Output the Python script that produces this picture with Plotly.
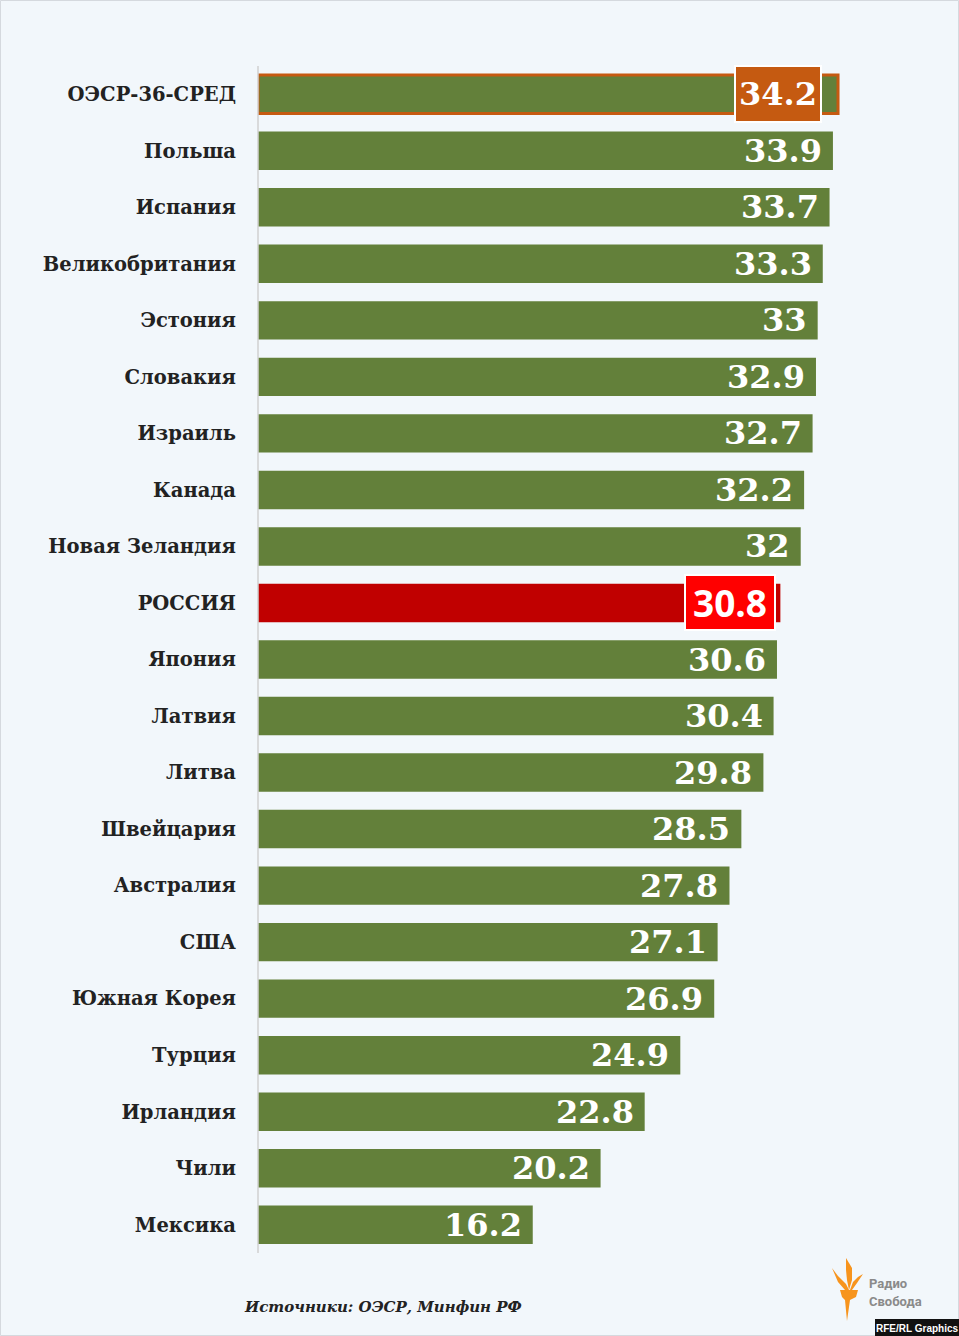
import plotly.graph_objects as go

countries = ["ОЭСР-36-СРЕД", "Польша", "Испания", "Великобритания", "Эстония", "Словакия",
             "Израиль", "Канада", "Новая Зеландия", "РОССИЯ", "Япония", "Латвия", "Литва",
             "Швейцария", "Австралия", "США", "Южная Корея", "Турция", "Ирландия", "Чили", "Мексика"]
values = [34.2, 33.9, 33.7, 33.3, 33, 32.9, 32.7, 32.2, 32, 30.8, 30.6, 30.4, 29.8,
          28.5, 27.8, 27.1, 26.9, 24.9, 22.8, 20.2, 16.2]
labels = [f"{v:g}" for v in values]
source_text = "Источники: ОЭСР, Минфин РФ"

W_FIG, H_FIG = 959, 1336
ML, MR, MT, MB = 258, 22, 66, 83
PW = W_FIG - ML - MR
PH = H_FIG - MT - MB

GREEN = "#63803a"
ORANGE = "#c55a11"
DARKRED = "#c00000"
RED = "#ff0000"
BG = "#f2f7fb"

bar_colors = []
line_w = []
for c in countries:
    if c == "РОССИЯ":
        bar_colors.append(DARKRED)
    else:
        bar_colors.append(GREEN)
    line_w.append(3 if c.startswith("ОЭСР") else 0)

fig = go.Figure()
fig.add_trace(go.Bar(
    x=values, y=countries, orientation="h",
    marker=dict(color=bar_colors, line=dict(color=ORANGE, width=line_w)),
    hoverinfo="skip",
))

annotations = []
for c, v, t in zip(countries, values, labels):
    a = dict(x=v, y=c, xref="x", yref="y", text=t, showarrow=False,
             xanchor="right", yanchor="middle",
             font=dict(family="DejaVu Serif", size=32, color="white", weight="bold"))
    if c.startswith("ОЭСР"):
        a.update(xshift=-16, bgcolor=ORANGE, bordercolor="white", borderwidth=2, borderpad=2,
                 width=80, height=50)
    elif c == "РОССИЯ":
        a.update(xshift=-4, bgcolor=RED, bordercolor="white", borderwidth=2, borderpad=2,
                 width=84, height=49,
                 font=dict(family="Open Sans", size=37, color="white", weight="bold"))
    else:
        a.update(xshift=-9)
    annotations.append(a)


def px(x):
    return (x - ML) / PW


def py(y):
    return (MT + PH - y) / PH


# source
annotations.append(dict(x=px(383), y=py(1307), xref="paper", yref="paper", text=f"<i>{source_text}</i>",
                        showarrow=False, xanchor="center", yanchor="middle",
                        font=dict(family="DejaVu Serif", size=15, color="#222222", weight="bold")))
# logo text
annotations.append(dict(x=px(867), y=py(1283), xref="paper", yref="paper", text="Радио",
                        showarrow=False, xanchor="left", yanchor="middle",
                        font=dict(family="Roboto", size=13, color="#8a8a8a", weight="bold")))
annotations.append(dict(x=px(867), y=py(1302), xref="paper", yref="paper", text="Свобода",
                        showarrow=False, xanchor="left", yanchor="middle",
                        font=dict(family="Roboto", size=13, color="#8a8a8a", weight="bold")))
annotations.append(dict(x=px(917), y=py(1328), xref="paper", yref="paper", text="RFE/RL Graphics",
                        showarrow=False, xanchor="center", yanchor="middle",
                        font=dict(family="Liberation Sans", size=10, color="white", weight="bold")))


def path(points):
    s = "M " + " L ".join(f"{px(x):.5f},{py(y):.5f}" for x, y in points) + " Z"
    return s


shapes = [
    # outer border
    dict(type="rect", xref="paper", yref="paper", x0=px(0.5), x1=px(958.5), y0=py(1335.5), y1=py(0.5),
         line=dict(color="#d5d9de", width=1), fillcolor="rgba(0,0,0,0)", layer="below"),
    # axis line
    dict(type="line", xref="paper", yref="paper", x0=0, x1=0, y0=0, y1=1,
         line=dict(color="#d0d0d0", width=1.5)),
    # RFE/RL box
    dict(type="rect", xref="paper", yref="paper", x0=px(875), x1=px(959), y0=py(1336), y1=py(1319),
         line=dict(width=0), fillcolor="#111111"),
    # torch cup
    dict(type="path", xref="paper", yref="paper",
         path=path([(840, 1290), (858, 1290), (856, 1297), (850, 1300), (847, 1321), (845, 1300), (842, 1297)]),
         line=dict(width=0), fillcolor="#f7941d"),
    # flames
    dict(type="path", xref="paper", yref="paper",
         path=path([(832, 1268), (838, 1276), (846, 1284), (849, 1290), (845, 1290), (838, 1282)]),
         line=dict(width=0), fillcolor="#f7941d"),
    dict(type="path", xref="paper", yref="paper",
         path=path([(846, 1258), (852, 1268), (852, 1280), (849, 1290), (847, 1280), (846, 1270)]),
         line=dict(width=0), fillcolor="#f7941d"),
    dict(type="path", xref="paper", yref="paper",
         path=path([(863, 1274), (857, 1283), (852, 1290), (850, 1290), (853, 1282), (858, 1277)]),
         line=dict(width=0), fillcolor="#f7941d"),
]

fig.update_layout(
    width=W_FIG, height=H_FIG,
    margin=dict(l=ML, r=MR, t=MT, b=MB, pad=0),
    paper_bgcolor=BG, plot_bgcolor=BG,
    bargap=0.32,
    showlegend=False,
    annotations=annotations,
    shapes=shapes,
    xaxis=dict(range=[0, PW / 16.96], visible=False, showgrid=False, zeroline=False),
    yaxis=dict(range=[20.5, -0.5], type="category", categoryorder="array", categoryarray=countries,
               showgrid=False, zeroline=False, showline=False, ticks="",
               ticklabelstandoff=21,
               tickfont=dict(family="DejaVu Serif", size=19.5, color="#222222", weight="bold")),
)

fig.write_html("out.html", config={"displayModeBar": False},
               post_script="document.body.style.margin='0';document.body.style.padding='0';"
                           "document.body.style.overflow='hidden';")
